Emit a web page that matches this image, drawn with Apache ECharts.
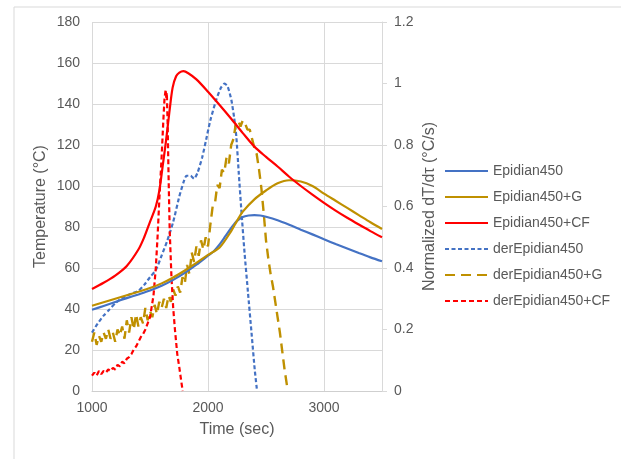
<!DOCTYPE html>
<html><head><meta charset="utf-8">
<script src="https://cdn.jsdelivr.net/npm/echarts@6/dist/echarts.min.js"></script>
<style>html,body{margin:0;padding:0;background:#fff}#c{width:621px;height:459px}</style>
</head><body><div id="c"></div>
<script>
// Temperature curves (left axis, °C)
const tBlue = [1000,1100,1200,1300,1400,1500,1600,1700,1800,1900,2000,2050,2100,2150,2200,2250,2300,2350,2400,2450,2500,2600,2700,2800,2900,3000,3100,3200,3300,3400,3500];
const vBlue = [39.6,41.5,43.4,45.3,47.1,49.0,51.3,54.2,57.6,61.6,66.0,68.2,71.5,75.5,79.5,83.0,84.9,85.6,85.8,85.6,85.0,83.3,81.1,78.7,76.4,74.0,71.7,69.5,67.3,65.2,63.3];

const tGold = [1000,1100,1200,1300,1400,1500,1600,1700,1800,1900,2000,2100,2200,2250,2300,2400,2500,2600,2700,2800,2900,3000,3100,3200,3300,3400,3500];
const vGold = [41.6,43.3,45.0,46.7,48.4,50.2,52.5,55.4,58.8,62.5,66.4,70.0,78.0,83.0,87.5,93.5,97.8,101.3,102.8,102.2,100.0,96.3,92.8,89.3,85.8,82.3,79.0];

const tRed = [1000,1100,1200,1300,1400,1450,1500,1550,1580,1609,1638,1667,1695,1725,1753,1788,1830,1900,2000,2100,2200,2300,2400,2500,2600,2700,2800,2900,3000,3100,3200,3300,3400,3500];
const vRed = [49.8,52.8,56.3,61.0,69.0,75.0,82.5,90.0,97.6,109.6,122.0,136.0,148.0,153.5,155.3,156.0,155.0,152.0,146.0,139.5,132.8,125.8,119.2,114.2,109.5,104.5,100.0,95.8,91.8,88.0,84.5,81.2,78.0,75.0];

// Normalized derivative curves (right axis, °C/s)
const tDerBlue = [1000,1050,1100,1150,1200,1250,1300,1350,1400,1450,1500,1551,1600,1650,1700,1753,1790,1815,1850,1880,1910,1950,1984,2020,2071,2110,2143,2170,2201,2225,2244,2265,2287,2315,2345,2375,2403,2423];
const vDerBlue = [0.19,0.22,0.245,0.265,0.285,0.30,0.31,0.318,0.325,0.345,0.37,0.394,0.44,0.49,0.55,0.633,0.68,0.70,0.70,0.69,0.71,0.76,0.817,0.88,0.947,0.985,1.0,0.99,0.947,0.89,0.828,0.71,0.59,0.45,0.319,0.19,0.069,0.0];

const tDerGold = [1000,1020,1040,1060,1080,1100,1120,1140,1160,1180,1200,1220,1240,1260,1280,1300,1320,1340,1360,1380,1400,1420,1440,1460,1480,1500,1520,1540,1560,1580,1600,1620,1640,1660,1680,1700,1720,1740,1760,1780,1800,1820,1840,1860,1880,1900,1920,1940,1960,1980,2000,2020,2040,2060,2080,2100,2120,2140,2160,2180,2200,2220,2240,2260,2280,2300,2320,2340,2360,2380,2400,2420,2440,2460,2480,2500,2520,2540,2560,2580,2600,2620,2640,2660,2680,2690];
const vDerGold = [0.16,0.19,0.15,0.18,0.16,0.19,0.17,0.20,0.17,0.19,0.16,0.20,0.18,0.21,0.17,0.23,0.19,0.24,0.20,0.25,0.21,0.24,0.22,0.27,0.23,0.26,0.24,0.28,0.25,0.29,0.27,0.30,0.27,0.31,0.29,0.33,0.31,0.34,0.32,0.37,0.35,0.41,0.38,0.45,0.42,0.47,0.44,0.49,0.46,0.50,0.47,0.54,0.60,0.61,0.67,0.66,0.72,0.71,0.76,0.74,0.80,0.82,0.87,0.88,0.86,0.88,0.87,0.85,0.85,0.82,0.79,0.77,0.72,0.66,0.58,0.49,0.43,0.38,0.34,0.29,0.24,0.19,0.13,0.07,0.02,0.0];

const tDerRed = [1000,1020,1040,1060,1080,1100,1120,1140,1160,1180,1200,1220,1240,1260,1280,1300,1320,1340,1360,1380,1400,1420,1440,1460,1480,1500,1530,1550,1565,1580,1600,1615,1625,1635,1640,1645,1652,1660,1670,1685,1700,1715,1735,1753,1770,1782];
const vDerRed = [0.05,0.06,0.05,0.065,0.055,0.065,0.06,0.07,0.065,0.075,0.07,0.085,0.08,0.095,0.09,0.105,0.11,0.12,0.135,0.145,0.16,0.175,0.185,0.20,0.22,0.24,0.31,0.40,0.50,0.62,0.76,0.88,0.95,0.98,0.95,0.97,0.87,0.70,0.52,0.37,0.27,0.20,0.12,0.076,0.03,0.0];

const xTicks = [1000,2000,3000];

function pairs(t, v){ return t.map((x,i)=>[x, v[i]]); }

const FONT = '"Liberation Sans", Arial, sans-serif';
const GRAY = '#595959';
const BLUE = '#4472C4', GOLD = '#BF9000', RED = '#FF0000';

const chart = echarts.init(document.getElementById('c'), null, {renderer:'canvas'});
chart.setOption({
  backgroundColor:'#fff',
  animation:false,
  textStyle:{fontFamily:FONT},
  graphic:[{type:'rect', shape:{x:14,y:7,width:700,height:500}, style:{fill:'none',stroke:'#D9D9D9',lineWidth:1}, z:-1}],
  grid:{left:92, right:239, top:22, bottom:68},
  legend:{
    orient:'vertical', left:444, top:164, itemWidth:43, itemHeight:14, itemGap:12,
    itemStyle:{opacity:0},
    textStyle:{fontSize:14, color:GRAY, fontFamily:FONT}, padding:0,
    data:['Epidian450','Epidian450+G','Epidian450+CF','derEpidian450','derEpidian450+G','derEpidian450+CF']
  },
  xAxis:{
    type:'value', min:1000, max:3500, interval:1000,
    name:'Time (sec)', nameLocation:'middle', nameGap:31,
    nameTextStyle:{fontSize:16, color:GRAY, fontFamily:FONT},
    axisLine:{show:true, lineStyle:{color:'#CFCFCF', width:1}},
    axisTick:{show:false},
    axisLabel:{fontSize:14, color:GRAY, margin:10, showMaxLabel:false,
      formatter:v=> xTicks.includes(v) ? String(v) : ''},
    splitLine:{show:true, lineStyle:{color:'#D9D9D9', width:1}}
  },
  yAxis:[{
    type:'value', min:0, max:180, interval:20, position:'left',
    name:'Temperature (°C)', nameLocation:'middle', nameGap:43,
    nameTextStyle:{fontSize:16, color:GRAY, fontFamily:FONT},
    axisLine:{show:false}, axisTick:{show:false},
    axisLabel:{fontSize:14, color:GRAY, margin:12},
    splitLine:{show:true, lineStyle:{color:'#D9D9D9', width:1}}
  },{
    type:'value', min:0, max:1.2, interval:0.2, position:'right',
    name:'Normalized dT/dτ (°C/s)', nameLocation:'middle', nameGap:40,
    nameTextStyle:{fontSize:16, color:GRAY, fontFamily:FONT},
    axisLine:{show:true, lineStyle:{color:'#D9D9D9', width:1}},
    axisTick:{show:true, length:5, lineStyle:{color:'#D9D9D9'}},
    axisLabel:{fontSize:14, color:GRAY, margin:12},
    splitLine:{show:false}
  }],
  series:[
    {name:'Epidian450', type:'line', yAxisIndex:0, data:pairs(tBlue,vBlue), symbol:'none', smooth:0.3, lineStyle:{color:BLUE, width:2.2}, itemStyle:{color:BLUE}, z:3},
    {name:'Epidian450+G', type:'line', yAxisIndex:0, data:pairs(tGold,vGold), symbol:'none', smooth:0.3, lineStyle:{color:GOLD, width:2.2}, itemStyle:{color:GOLD}, z:3},
    {name:'Epidian450+CF', type:'line', yAxisIndex:0, data:pairs(tRed,vRed), symbol:'none', smooth:0.3, lineStyle:{color:RED, width:2.2}, itemStyle:{color:RED}, z:3},
    {name:'derEpidian450', type:'line', yAxisIndex:1, data:pairs(tDerBlue,vDerBlue), symbol:'none', smooth:0.2, lineStyle:{color:BLUE, width:2.2, type:[4,2.5]}, itemStyle:{color:BLUE}, z:2},
    {name:'derEpidian450+G', type:'line', yAxisIndex:1, data:pairs(tDerGold,vDerGold), symbol:'none', lineStyle:{color:GOLD, width:2.4, type:[10,6]}, itemStyle:{color:GOLD}, z:2},
    {name:'derEpidian450+CF', type:'line', yAxisIndex:1, data:pairs(tDerRed,vDerRed), symbol:'none', lineStyle:{color:RED, width:2.2, type:[5,3]}, itemStyle:{color:RED}, z:2}
  ]
});
</script></body></html>
